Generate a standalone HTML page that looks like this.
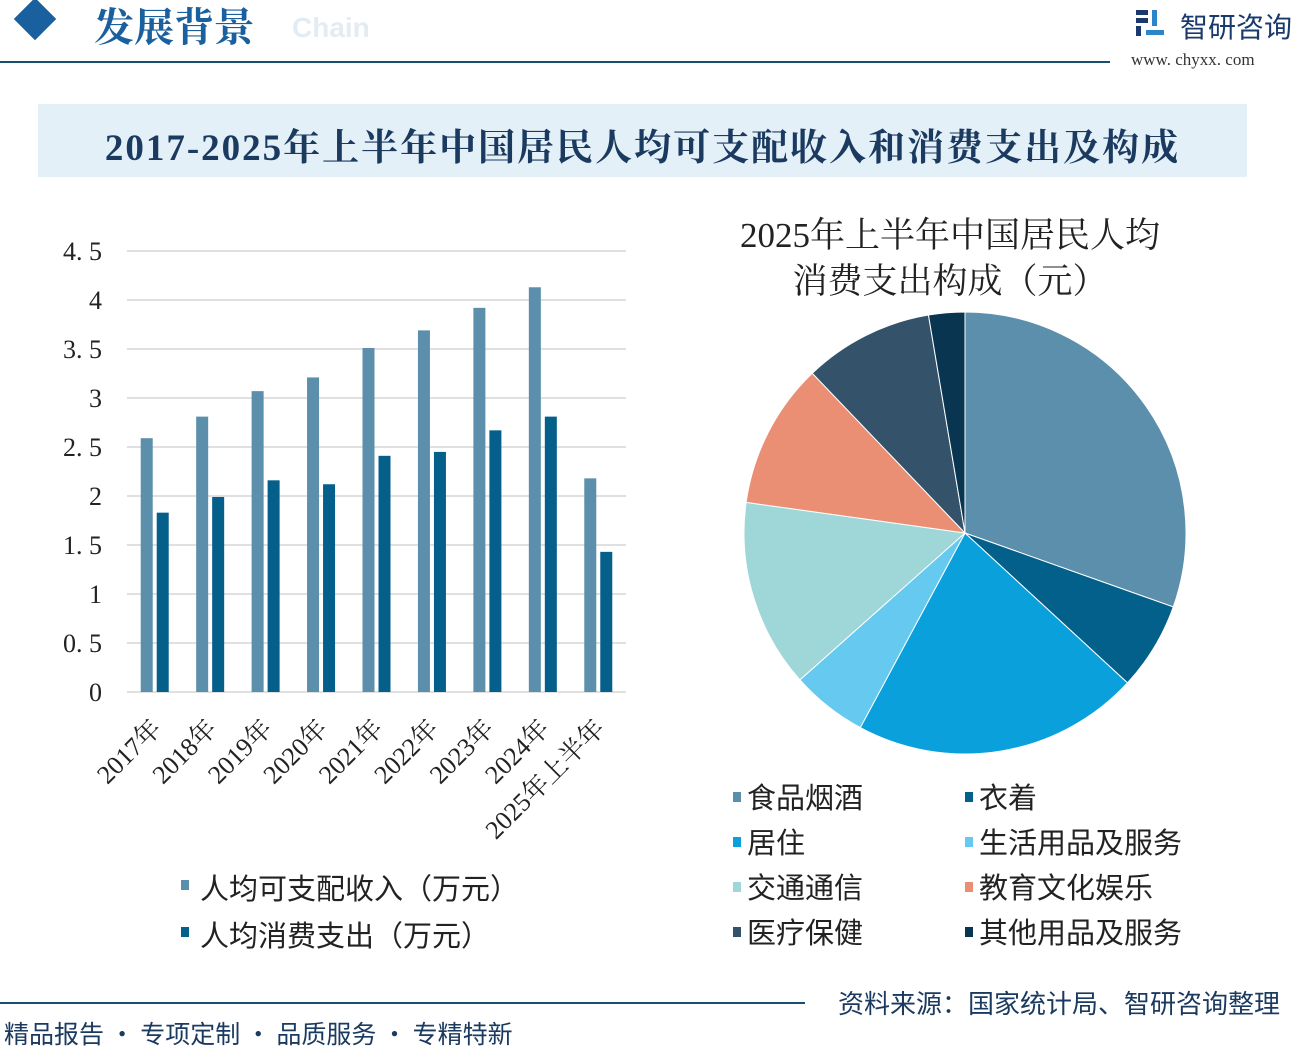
<!DOCTYPE html>
<html><head><meta charset="utf-8"><style>
body{margin:0;width:1292px;height:1048px;background:#fff;overflow:hidden;position:relative;font-family:"Liberation Sans","Noto Sans CJK SC",sans-serif}
.a{position:absolute;white-space:nowrap}
</style></head><body>
<div class="a" style="left:20px;top:4px;width:30px;height:30px;background:#1a5f9e;transform:rotate(45deg)"></div>
<div class="a" style="left:94px;top:-4px;font:bold 40px 'Noto Serif CJK SC',serif;color:#1a5f9e">发展背景</div>
<div class="a" style="left:292px;top:12px;font:bold 28px 'Liberation Sans',sans-serif;color:#e3ecf3">Chain</div>
<div class="a" style="left:0;top:61px;width:1110px;height:2px;background:#1b4d6e"></div>
<svg class="a" style="left:1136px;top:10px" width="30" height="28"><rect x="0" y="0" width="12" height="5" fill="#1a3a6e"/><rect x="0" y="8" width="12" height="5" fill="#1a3a6e"/><rect x="0" y="16" width="5" height="10" fill="#1a3a6e"/><rect x="16" y="0" width="5" height="16" fill="#2a86c8"/><rect x="10" y="20" width="18" height="5" fill="#2a86c8"/></svg>
<div class="a" style="left:1180px;top:6px;font:28px 'Noto Sans CJK SC',sans-serif;color:#1a3a6e">智研咨询</div>
<div class="a" style="left:1131px;top:50px;font:17px 'Liberation Serif',serif;color:#333">www. chyxx. com</div>
<div class="a" style="left:38px;top:104px;width:1209px;height:73px;background:#e4f0f8"></div>
<div class="a" style="left:38px;top:117px;width:1209px;text-align:center;font:bold 37px 'Liberation Serif','Noto Serif CJK SC',serif;letter-spacing:2px;color:#1b3a60">2017-2025年上半年中国居民人均可支配收入和消费支出及构成</div>

<svg id="bar" class="a" style="left:0;top:200px" width="700" height="800"></svg>
<svg id="pie" class="a" style="left:700px;top:200px" width="592" height="780"></svg>

<div class="a" style="left:0;top:1002px;width:805px;height:2px;background:#1b4d6e"></div>
<div class="a" style="left:4px;top:1015px;font:25px 'Noto Sans CJK SC',sans-serif;color:#1b3a60">精品报告 · 专项定制 · 品质服务 · 专精特新</div>
<div class="a" style="left:838px;top:984px;font:26px 'Noto Sans CJK SC',sans-serif;color:#1b3a60">资料来源：国家统计局、智研咨询整理</div>

<script>
const categories=["2017年","2018年","2019年","2020年","2021年","2022年","2023年","2024年","2025年上半年"];
const incomeValues=[2.59,2.81,3.07,3.21,3.51,3.69,3.92,4.13,2.18];
const spendValues=[1.83,1.99,2.16,2.12,2.41,2.45,2.67,2.81,1.43];
const yTicks=[0,0.5,1,1.5,2,2.5,3,3.5,4,4.5];
const tickLabels=["0","0. 5","1","1. 5","2","2. 5","3","3. 5","4","4. 5"];
const pieLabels=["食品烟酒","衣着","居住","生活用品及服务","交通通信","教育文化娱乐","医疗保健","其他用品及服务"];
const pieValues=[4260,900,2940,780,1930,1490,1330,370];
const pieColors=["#5b8fab","#02608a","#0aa0dc","#66c9f0","#9fd7d8","#ea8f74","#34536a","#0a3550"];
const NS="http://www.w3.org/2000/svg";
function mk(p,t,a){const e=document.createElementNS(NS,t);for(const k in a)e.setAttribute(k,a[k]);p.appendChild(e);return e;}
const bar=document.getElementById('bar');
const x0=127,x1=626,y0=492,yPer=98;
const yS=v=>y0-v*yPer;
const band=(x1-x0)/categories.length;
yTicks.forEach((t,i)=>{
  const g=mk(bar,'line',{x1:x0,x2:x1,y1:yS(t),y2:yS(t),stroke:'#d6d6d6','stroke-width':1.5});
  
  
  const tx=mk(bar,'text',{x:102,y:yS(t)+9,'text-anchor':'end','font-size':26,'font-family':'Liberation Serif,serif',fill:'#222'});
  tx.textContent=tickLabels[i];
  
  
});
categories.forEach((c,i)=>{
  const cx=x0+band*(i+0.5);
  const r1=mk(bar,'rect',{x:cx-14,y:yS(incomeValues[i]),width:12,height:incomeValues[i]*yPer,fill:'#5b8fab'});
  
  
  const r2=mk(bar,'rect',{x:cx+2,y:yS(spendValues[i]),width:12,height:spendValues[i]*yPer,fill:'#045f8a'});
  
  
  const tx=mk(bar,'text',{x:cx+8,y:y0+38,'text-anchor':'end','font-size':26,'font-family':'Liberation Serif,Noto Serif CJK SC,serif',fill:'#222',transform:`rotate(-45 ${cx+8} ${y0+38})`});
  tx.textContent=c;
  
  
});
[["人均可支配收入（万元）","#5b8fab",689],["人均消费支出（万元）","#045f8a",736]].forEach(([t,c,y])=>{
  const r=mk(bar,'rect',{x:181,y:y-9,width:8,height:10,fill:c});
  
  
  const tx=mk(bar,'text',{x:200,y:y+10,'font-size':29,'font-family':'Noto Sans CJK SC,sans-serif',fill:'#222'});
  tx.textContent=t;
  
  
});
const pie=document.getElementById('pie');
[["2025年上半年中国居民人均",47],["消费支出构成（元）",93]].forEach(([t,y])=>{
  const tx=mk(pie,'text',{x:250,y:y,'text-anchor':'middle','font-size':35,'font-family':'Liberation Serif,Noto Serif CJK SC,serif',fill:'#222'});
  tx.textContent=t;
  
  
});
const cx=265,cy=333,R=221;
const tot=pieValues.reduce((a,b)=>a+b,0);
let acc=0;
pieValues.forEach((v,i)=>{
  const a0=acc/tot*2*Math.PI;acc+=v;const a1=acc/tot*2*Math.PI;
  const p=(a)=>[cx+R*Math.sin(a),cy-R*Math.cos(a)];
  const [sx,sy]=p(a0),[ex,ey]=p(a1);
  const s=mk(pie,'path',{d:`M${cx},${cy}L${sx},${sy}A${R},${R} 0 ${a1-a0>Math.PI?1:0} 1 ${ex},${ey}Z`,fill:pieColors[i],stroke:'#fff','stroke-width':1});
  
  
});
pieLabels.forEach((t,i)=>{
  const lx=i%2?265:33, ly=597+Math.floor(i/2)*45;
  const r=mk(pie,'rect',{x:lx,y:ly-5,width:8,height:10,fill:pieColors[i]});
  
  
  const tx=mk(pie,'text',{x:lx+14,y:ly+11,'font-size':29,'font-family':'Noto Sans CJK SC,sans-serif',fill:'#222'});
  tx.textContent=t;
  
  
});
</script>
</body></html>
